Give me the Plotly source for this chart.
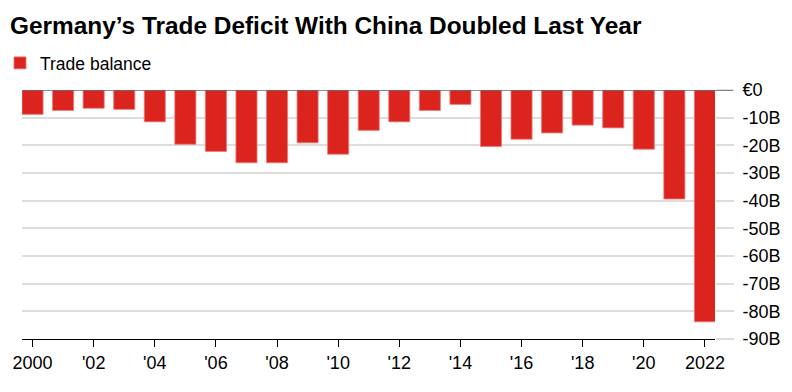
import plotly.graph_objects as go

years = list(range(2000, 2023))
trade_balance = [-8.8, -7.4, -6.6, -7.0, -11.5, -19.6, -22.2, -26.3, -26.3, -19.1, -23.2, -14.6,
                 -11.5, -7.4, -5.2, -20.4, -17.8, -15.5, -12.7, -13.7, -21.4, -39.4, -83.8]

x_tickvals = list(range(2000, 2023, 2))
x_ticktext = ["2000", "'02", "'04", "'06", "'08", "'10", "'12", "'14", "'16", "'18", "'20", "2022"]
y_tickvals = [0, -10, -20, -30, -40, -50, -60, -70, -80, -90]
y_ticktext = ["€0", "-10B", "-20B", "-30B", "-40B", "-50B", "-60B", "-70B", "-80B", "-90B"]

FONT = "Liberation Sans, Arial, sans-serif"

fig = go.Figure()
fig.add_trace(go.Bar(
    x=years, y=trade_balance, name="Trade balance",
    marker=dict(color="#dc241f", line=dict(color="#ee7a76", width=0.8)),
    width=0.69, showlegend=True,
))

fig.update_layout(
    width=792, height=392,
    margin=dict(l=22, r=77, t=90, b=53, autoexpand=False),
    plot_bgcolor="white", paper_bgcolor="white",
    font=dict(family=FONT, color="black"),
    title=dict(text="<b>Germany’s Trade Deficit With China Doubled Last Year</b>",
               x=10 / 792, xref="container", xanchor="left",
               y=1 - 25 / 392, yref="container", yanchor="middle",
               font=dict(size=24.4, family=FONT, color="black")),
    legend=dict(x=-8 / 792, xref="container", xanchor="left",
                y=1 - 63 / 392, yref="container", yanchor="middle",
                orientation="h", font=dict(size=17.5, family=FONT),
                itemwidth=30, bgcolor="rgba(0,0,0,0)"),
    bargap=0.3,
)

fig.update_xaxes(
    range=[1999.655, 2022.33], automargin=False,
    tickvals=x_tickvals, ticktext=x_ticktext,
    ticks="outside", ticklen=7, tickcolor="black", tickwidth=1,
    showline=True, linecolor="black", linewidth=1,
    showgrid=False, zeroline=False,
    tickfont=dict(size=18, family=FONT, color="black"),
)

fig.update_yaxes(
    range=[-90, 0], side="right", automargin=False,
    tickvals=y_tickvals, ticktext=y_ticktext,
    ticks="outside", ticklen=18, tickcolor="#dddddd", tickwidth=1.5,
    ticklabelstandoff=5,
    showgrid=True, gridcolor="#dddddd", gridwidth=1.5,
    zeroline=False, showline=False,
    tickfont=dict(size=18, family=FONT, color="black"),
)

# dark zero baseline extending into tick area
fig.add_shape(type="line", xref="paper", yref="y", x0=0, x1=1.026, y0=0, y1=0,
              line=dict(color="#666666", width=1.5), layer="above")

fig.write_html("out.html", config={"displayModeBar": False},
               post_script="document.body.style.margin='0';")
